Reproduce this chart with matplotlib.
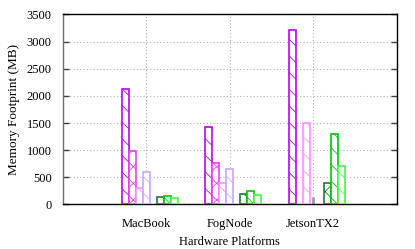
import numpy as np
import matplotlib
matplotlib.use("Agg")
import matplotlib.pyplot as plt

plt.rcParams['font.family'] = ['Liberation Serif', 'DejaVu Serif']
plt.rcParams['hatch.linewidth'] = 0.6

platforms = ["MacBook", "FogNode", "JetsonTX2"]
series_colors = ['#c000ff', '#f040f0', '#ff90ff', '#c8a8ff', '#207840', '#00c800', '#40ff40']
series_hatch = ['\\\\', 'xx', '\\\\', '\\\\', 'xx', '\\\\', '\\\\']
series_slot = [0, 1, 2, 3, 5, 6, 7]
# values per series (MB) for MacBook, FogNode, JetsonTX2 (nan = no bar)
s1 = [2120, 1420, 3210]
s2 = [985, 760, np.nan]
s3 = [310, 400, 1500]
s4 = [593, 648, np.nan]
s5 = [133, 185, 400]
s6 = [157, 252, 1305]
s7 = [114, 172, 712]
values = [s1, s2, s3, s4, s5, s6, s7]

fig = plt.figure(figsize=(4.15, 2.49), dpi=100)
ax = fig.add_axes([0.151, 0.179, 0.805, 0.763])

w = 1 / 12
x = np.arange(len(platforms))
for vals, c, h, slot in zip(values, series_colors, series_hatch, series_slot):
    v = np.array(vals, dtype=float)
    m = ~np.isnan(v)
    ax.bar(x[m] + (slot - 3) * w, v[m], width=w, facecolor='white',
           edgecolor=c, hatch=h, linewidth=1.2, zorder=3)

ax.set_xlim(-1, 3)
ax.set_ylim(0, 3500)
ax.set_yticks(np.arange(0, 3501, 500))
ax.set_xticks(x)
ax.set_xticklabels(platforms)
ax.grid(True, color='#b0b0b0', linestyle=(0, (1, 2)), linewidth=0.8, zorder=0)
ax.tick_params(axis='y', direction='in', length=4, width=1, colors='#404040',
               labelcolor='black', labelsize=9, right=True, pad=8)
ax.tick_params(axis='x', direction='in', length=5, width=2, colors='#a0a0a0',
               labelcolor='black', labelsize=9, pad=10)
for s in ['top', 'right', 'bottom']:
    ax.spines[s].set_color('black')
    ax.spines[s].set_linewidth(1.0)
ax.spines['left'].set_color('#707070')
ax.spines['left'].set_linewidth(1.0)
ax.set_ylabel('Memory Footprint (MB)', fontsize=9.5, labelpad=5)
ax.set_xlabel('Hardware Platforms', fontsize=9, labelpad=4)

fig.savefig('out.png', dpi=100)
